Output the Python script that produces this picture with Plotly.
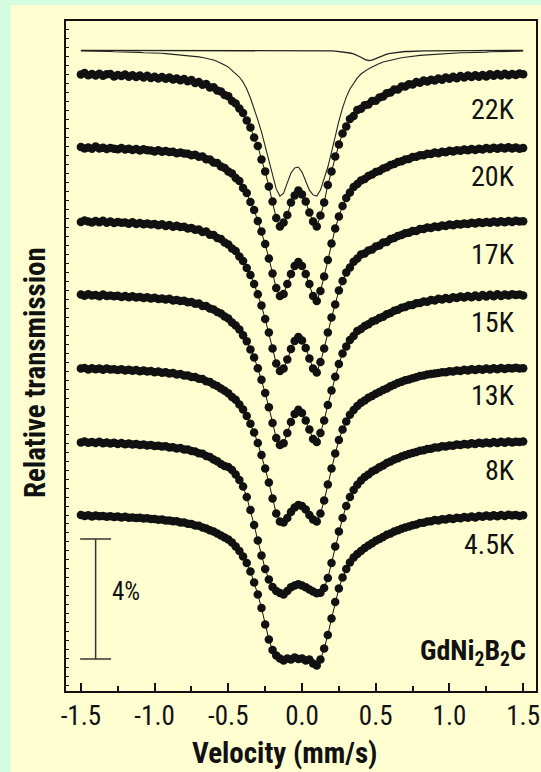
import numpy as np
import plotly.graph_objects as go

# ---------------- data (absorption depth in %) ----------------
# velocity channels (mm/s), uniform spacing of the spectrometer
velocity = np.round(np.linspace(-1.5, 1.5, 121), 3)

temperatures = ["22K", "20K", "17K", "15K", "13K", "8K", "4.5K"]
offsets = [0.0, -2.45, -4.9, -7.35, -9.8, -12.25, -14.7]   # vertical stacking (%)
component_offset = 0.8

absorption_22K = [
    0.02, -0.03, 0.04, 0.0, 0.05, -0.01, 0.06, 0.01, 0.0, 0.08,
    0.03, 0.07, 0.02, 0.09, 0.04, 0.1, 0.05, 0.12, 0.06, 0.13,
    0.09, 0.15, 0.1, 0.16, 0.12, 0.18, 0.15, 0.21, 0.17, 0.24,
    0.2, 0.3, 0.27, 0.36, 0.33, 0.45, 0.44, 0.55, 0.58, 0.7,
    0.74, 0.9, 0.98, 1.15, 1.3, 1.55, 1.78, 2.12, 2.4, 2.85,
    3.25, 3.75, 4.25, 4.8, 5.08,
    4.95, 4.7, 4.28, 4.05, 3.88, 4.02, 4.25, 4.62, 4.92, 5.08,
    4.72, 4.28, 3.7, 3.25, 2.75, 2.35, 1.98, 1.75, 1.5, 1.4,
    1.2, 1.16, 1.04, 1.02, 0.9, 0.89, 0.78, 0.75, 0.64, 0.62,
    0.52, 0.52, 0.42, 0.42, 0.34, 0.35, 0.27, 0.29, 0.22, 0.25,
    0.19, 0.22, 0.15, 0.19, 0.12, 0.16, 0.09, 0.14, 0.07, 0.12,
    0.05, 0.1, 0.04, 0.09, 0.03, 0.08, 0.01, 0.06, 0.0, 0.05,
    -0.01, 0.04, 0.0, 0.03, -0.02, 0.01,
]
absorption_20K = [
    -0.02, 0.03, 0.0, 0.04, -0.03, 0.03, 0.01, 0.05, 0.02, 0.04,
    0.06, 0.02, 0.07, 0.04, 0.08, 0.05, 0.1, 0.06, 0.09, 0.1,
    0.13, 0.09, 0.14, 0.12, 0.15, 0.14, 0.19, 0.17, 0.2, 0.21,
    0.26, 0.24, 0.31, 0.3, 0.39, 0.4, 0.5, 0.52, 0.63, 0.68,
    0.8, 0.87, 1.02, 1.12, 1.35, 1.52, 1.82, 2.08, 2.45, 2.8,
    3.22, 3.7, 4.2, 4.68, 4.95,
    4.88, 4.55, 4.22, 3.95, 3.82, 3.95, 4.22, 4.55, 4.95, 5.12,
    4.78, 4.3, 3.75, 3.2, 2.7, 2.3, 1.95, 1.68, 1.5, 1.32,
    1.22, 1.1, 1.05, 0.95, 0.9, 0.82, 0.78, 0.7, 0.66, 0.58,
    0.55, 0.48, 0.46, 0.4, 0.38, 0.32, 0.31, 0.26, 0.26, 0.21,
    0.22, 0.17, 0.19, 0.14, 0.16, 0.11, 0.13, 0.09, 0.11, 0.07,
    0.09, 0.05, 0.08, 0.04, 0.07, 0.02, 0.05, 0.01, 0.04, 0.0,
    0.03, -0.01, 0.03, 0.0, 0.04, 0.02,
]
absorption_17K = [
    0.03, -0.02, 0.02, 0.05, 0.0, 0.04, -0.01, 0.06, 0.02, 0.07,
    0.03, 0.06, 0.05, 0.09, 0.04, 0.1, 0.07, 0.11, 0.08, 0.12,
    0.1, 0.14, 0.11, 0.17, 0.13, 0.19, 0.16, 0.2, 0.19, 0.25,
    0.23, 0.29, 0.28, 0.37, 0.35, 0.46, 0.47, 0.57, 0.6, 0.72,
    0.78, 0.92, 1.0, 1.18, 1.33, 1.57, 1.8, 2.1, 2.44, 2.82,
    3.27, 3.72, 4.25, 4.75, 5.0,
    4.92, 4.62, 4.27, 4.0, 3.87, 3.98, 4.23, 4.58, 4.92, 5.05,
    4.7, 4.25, 3.72, 3.22, 2.78, 2.32, 2.0, 1.72, 1.55, 1.36,
    1.25, 1.12, 1.08, 0.98, 0.95, 0.85, 0.82, 0.72, 0.7, 0.6,
    0.57, 0.5, 0.47, 0.41, 0.39, 0.33, 0.33, 0.27, 0.27, 0.22,
    0.23, 0.18, 0.2, 0.15, 0.17, 0.12, 0.14, 0.1, 0.12, 0.08,
    0.1, 0.06, 0.08, 0.04, 0.07, 0.03, 0.06, 0.02, 0.05, 0.01,
    0.04, 0.0, 0.03, -0.01, 0.02, 0.01,
]
absorption_15K = [
    0.0, 0.04, -0.01, 0.03, 0.02, 0.06, 0.0, 0.05, 0.03, 0.06,
    0.04, 0.08, 0.05, 0.09, 0.06, 0.1, 0.08, 0.12, 0.09, 0.13,
    0.11, 0.15, 0.13, 0.17, 0.14, 0.2, 0.18, 0.22, 0.21, 0.26,
    0.25, 0.31, 0.3, 0.38, 0.38, 0.47, 0.5, 0.58, 0.63, 0.73,
    0.8, 0.93, 1.03, 1.17, 1.36, 1.56, 1.83, 2.1, 2.46, 2.84,
    3.28, 3.76, 4.28, 4.78, 5.02,
    4.96, 4.62, 4.25, 3.98, 3.84, 3.95, 4.2, 4.5, 4.82, 4.92,
    4.62, 4.2, 3.68, 3.2, 2.74, 2.32, 1.97, 1.73, 1.52, 1.38,
    1.22, 1.15, 1.05, 0.99, 0.9, 0.86, 0.78, 0.74, 0.66, 0.62,
    0.54, 0.51, 0.44, 0.42, 0.36, 0.35, 0.29, 0.28, 0.23, 0.24,
    0.18, 0.2, 0.14, 0.17, 0.12, 0.15, 0.09, 0.12, 0.07, 0.1,
    0.05, 0.09, 0.03, 0.08, 0.02, 0.07, 0.01, 0.06, -0.01, 0.05,
    0.0, 0.03, -0.01, 0.02, 0.0, 0.03,
]
absorption_13K = [
    0.02, 0.0, 0.05, 0.01, 0.04, 0.02, 0.06, 0.02, 0.05, 0.04,
    0.07, 0.04, 0.08, 0.06, 0.09, 0.07, 0.11, 0.08, 0.12, 0.1,
    0.14, 0.12, 0.16, 0.14, 0.18, 0.17, 0.22, 0.2, 0.25, 0.25,
    0.3, 0.3, 0.36, 0.37, 0.44, 0.47, 0.55, 0.6, 0.68, 0.76,
    0.84, 0.97, 1.06, 1.22, 1.38, 1.6, 1.86, 2.15, 2.5, 2.9,
    3.35, 3.82, 4.35, 4.85, 5.12,
    5.15, 5.0, 4.8, 4.65, 4.57, 4.6, 4.72, 4.9, 5.05, 5.12,
    4.85, 4.42, 3.88, 3.35, 2.85, 2.4, 2.05, 1.78, 1.56, 1.4,
    1.27, 1.16, 1.08, 0.99, 0.93, 0.86, 0.8, 0.73, 0.68, 0.61,
    0.56, 0.5, 0.46, 0.41, 0.38, 0.34, 0.31, 0.27, 0.25, 0.22,
    0.2, 0.18, 0.17, 0.14, 0.14, 0.11, 0.12, 0.08, 0.1, 0.06,
    0.08, 0.04, 0.07, 0.03, 0.06, 0.02, 0.05, 0.01, 0.04, 0.0,
    0.03, 0.0, 0.02, -0.01, 0.02, 0.01,
]
absorption_8K = [
    0.03, 0.0, 0.04, 0.02, 0.05, 0.01, 0.06, 0.03, 0.07, 0.04,
    0.08, 0.05, 0.09, 0.07, 0.1, 0.08, 0.12, 0.1, 0.13, 0.12,
    0.15, 0.14, 0.17, 0.16, 0.2, 0.19, 0.23, 0.22, 0.27, 0.27,
    0.32, 0.33, 0.39, 0.41, 0.48, 0.52, 0.6, 0.66, 0.75, 0.82,
    0.85, 0.95, 1.1, 1.28, 1.5, 1.85, 2.28, 2.78, 3.3, 3.8,
    4.25, 4.6, 4.85, 4.98, 5.05,
    5.1, 4.98, 4.86, 4.8, 4.76, 4.8, 4.86, 4.93, 5.0, 5.06,
    5.04, 4.88, 4.55, 4.05, 3.5, 3.0, 2.55, 2.15, 1.85, 1.62,
    1.44, 1.3, 1.18, 1.1, 1.0, 0.94, 0.86, 0.8, 0.72, 0.67,
    0.6, 0.56, 0.5, 0.46, 0.42, 0.38, 0.35, 0.31, 0.29, 0.25,
    0.24, 0.2, 0.2, 0.16, 0.17, 0.13, 0.14, 0.1, 0.12, 0.08,
    0.1, 0.06, 0.08, 0.04, 0.07, 0.03, 0.06, 0.02, 0.05, 0.01,
    0.04, 0.0, 0.03, 0.01, 0.02, 0.0,
]
absorption_4_5K = [
    0.0, 0.03, 0.01, 0.05, 0.02, 0.04, 0.03, 0.06, 0.04, 0.07,
    0.05, 0.08, 0.06, 0.09, 0.08, 0.1, 0.09, 0.12, 0.11, 0.13,
    0.13, 0.16, 0.15, 0.18, 0.18, 0.21, 0.21, 0.25, 0.25, 0.29,
    0.3, 0.35, 0.36, 0.42, 0.45, 0.51, 0.55, 0.62, 0.68, 0.75,
    0.82, 0.92, 1.05, 1.2, 1.38, 1.6, 1.88, 2.25, 2.65, 3.1,
    3.65, 4.15, 4.5, 4.68, 4.78,
    4.85, 4.78, 4.82, 4.75, 4.8, 4.78, 4.85, 4.82, 4.95, 5.02,
    4.82, 4.45, 4.0, 3.45, 2.9, 2.45, 2.08, 1.8, 1.58, 1.42,
    1.3, 1.2, 1.1, 1.02, 0.94, 0.86, 0.8, 0.73, 0.66, 0.62,
    0.55, 0.51, 0.46, 0.42, 0.38, 0.34, 0.32, 0.27, 0.26, 0.22,
    0.21, 0.17, 0.18, 0.14, 0.15, 0.11, 0.13, 0.09, 0.11, 0.07,
    0.09, 0.05, 0.08, 0.03, 0.06, 0.02, 0.05, 0.01, 0.04, 0.0,
    0.03, -0.01, 0.02, 0.0, 0.03, 0.01,
]
# sub-spectra of the 22K fit drawn at the top
component_main = [
    0.03, 0.03, 0.03, 0.03, 0.04, 0.04, 0.05, 0.05, 0.05, 0.06,
    0.06, 0.06, 0.07, 0.07, 0.08, 0.08, 0.08, 0.09, 0.09, 0.1,
    0.1, 0.11, 0.11, 0.12, 0.13, 0.14, 0.15, 0.16, 0.17, 0.18,
    0.2, 0.22, 0.23, 0.25, 0.27, 0.3, 0.33, 0.38, 0.43, 0.5,
    0.57, 0.67, 0.77, 0.9, 1.07, 1.3, 1.6, 1.93, 2.33, 2.73,
    3.2, 3.7, 4.17, 4.63, 4.87, 4.77, 4.43, 4.1, 3.93, 3.9,
    4.07, 4.37, 4.67, 4.83, 4.87, 4.67, 4.3, 3.9, 3.4, 2.87,
    2.37, 1.93, 1.57, 1.3, 1.1, 0.93, 0.8, 0.7, 0.63, 0.57,
    0.5, 0.45, 0.4, 0.37, 0.33, 0.31, 0.28, 0.26, 0.24, 0.22,
    0.21, 0.19, 0.18, 0.17, 0.16, 0.15, 0.14, 0.13, 0.12, 0.12,
    0.11, 0.1, 0.1, 0.09, 0.09, 0.09, 0.08, 0.08, 0.07, 0.07,
    0.07, 0.06, 0.06, 0.06, 0.05, 0.05, 0.05, 0.04, 0.04, 0.04,
    0.03,
]
component_minor = [
    0.01, 0.01, 0.01, 0.01, 0.01, 0.01, 0.01, 0.01, 0.01, 0.01,
    0.01, 0.01, 0.01, 0.01, 0.01, 0.01, 0.01, 0.01, 0.01, 0.01,
    0.01, 0.01, 0.01, 0.01, 0.01, 0.01, 0.01, 0.01, 0.01, 0.01,
    0.01, 0.01, 0.01, 0.01, 0.01, 0.01, 0.01, 0.01, 0.01, 0.01,
    0.01, 0.01, 0.01, 0.01, 0.01, 0.01, 0.01, 0.01, 0.01, 0.01,
    0.01, 0.01, 0.01, 0.01, 0.01, 0.01, 0.01, 0.01, 0.01, 0.01,
    0.01, 0.01, 0.01, 0.02, 0.02, 0.02, 0.02, 0.03, 0.03, 0.04,
    0.05, 0.06, 0.08, 0.1, 0.13, 0.18, 0.24, 0.31, 0.35, 0.34,
    0.29, 0.23, 0.18, 0.14, 0.11, 0.09, 0.07, 0.06, 0.05, 0.05,
    0.04, 0.04, 0.04, 0.03, 0.03, 0.03, 0.03, 0.03, 0.02, 0.02,
    0.02, 0.02, 0.02, 0.02, 0.02, 0.02, 0.02, 0.02, 0.02, 0.02,
    0.01, 0.01, 0.01, 0.01, 0.01, 0.01, 0.01, 0.01, 0.01, 0.01,
    0.01,
]
spectra = [absorption_22K, absorption_20K, absorption_17K, absorption_15K,
           absorption_13K, absorption_8K, absorption_4_5K]

x_tick_values = [-1.5, -1.0, -0.5, 0.0, 0.5, 1.0, 1.5]
x_tick_labels = ["-1.5", "-1.0", "-0.5", "0.0", "0.5", "1.0", "1.5"]
label_levels = [-1.17, -3.4, -6.0, -8.28, -10.73, -13.2, -15.67]
scale_bar_percent = 4

# ---------------- styling ----------------
FONT = "Liberation Sans Narrow, Arial Narrow, Roboto Condensed, DejaVu Sans Condensed, sans-serif"
YELLOW = "#fefed1"
GREEN = "#d4fce1"
INK = "#111111"

fig = go.Figure()

for comp, w in [(component_minor, 1.3), (component_main, 1.1)]:
    fig.add_trace(go.Scatter(
        x=velocity, y=[component_offset - a for a in comp], mode="lines",
        line=dict(color="#222222", width=w), hoverinfo="skip", showlegend=False))

for spec, off in zip(spectra, offsets):
    fig.add_trace(go.Scatter(
        x=velocity, y=[off - a for a in spec], mode="lines+markers",
        line=dict(color=INK, width=1),
        marker=dict(color=INK, size=8.5, line=dict(width=0)),
        hoverinfo="skip", showlegend=False))

annotations = []
for name, lvl in zip(temperatures, label_levels):
    annotations.append(dict(x=1.455, y=lvl, xref="x", yref="y", text=name,
                            showarrow=False, xanchor="right", yanchor="middle",
                            font=dict(family=FONT, size=28, color=INK)))

bar_top = -15.5
bar_bottom = bar_top - scale_bar_percent
annotations += [
    dict(x=-1.30, y=(bar_top + bar_bottom) / 2 + 0.25, xref="x", yref="y",
         text=f"{scale_bar_percent}%", showarrow=False, xanchor="left", yanchor="middle",
         font=dict(family=FONT, size=25, color=INK)),
    dict(x=1.53, y=-19.3, xref="x", yref="y",
         text="<b>GdNi<sub>2</sub>B<sub>2</sub>C</b>", showarrow=False,
         xanchor="right", yanchor="middle",
         font=dict(family=FONT, size=28, color=INK)),
    dict(x=0.464, y=-0.092, xref="paper", yref="paper", text="<b>Velocity (mm/s)</b>",
         showarrow=False, xanchor="center", yanchor="middle",
         font=dict(family=FONT, size=29, color=INK)),
    dict(x=-0.066, y=0.476, xref="paper", yref="paper", text="<b>Relative transmission</b>",
         showarrow=False, xanchor="center", yanchor="middle", textangle=-90,
         font=dict(family=FONT, size=29, color=INK)),
]

shapes = [
    dict(type="rect", xref="paper", yref="paper", x0=-0.1181, x1=1.02, y0=-0.14, y1=1.0239,
         fillcolor=YELLOW, line=dict(width=0), layer="below"),
    dict(type="line", xref="x", yref="y", x0=-1.40, x1=-1.40, y0=bar_top, y1=bar_bottom,
         line=dict(color="#333333", width=1.5)),
    dict(type="line", xref="x", yref="y", x0=-1.505, x1=-1.295, y0=bar_top, y1=bar_top,
         line=dict(color="#333333", width=1.5)),
    dict(type="line", xref="x", yref="y", x0=-1.505, x1=-1.295, y0=bar_bottom, y1=bar_bottom,
         line=dict(color="#333333", width=1.5)),
]

fig.update_layout(
    width=541, height=772,
    margin=dict(l=66, r=1, t=21, b=81),
    paper_bgcolor=GREEN, plot_bgcolor=YELLOW,
    annotations=annotations, shapes=shapes,
    font=dict(family=FONT, color=INK),
)
fig.update_xaxes(
    range=[-1.601, 1.587], showgrid=False, zeroline=False,
    showline=True, linecolor=INK, linewidth=2, mirror=True,
    ticks="inside", ticklen=8, tickwidth=1.5, tickcolor=INK,
    tickvals=x_tick_values, ticktext=x_tick_labels,
    tickfont=dict(family=FONT, size=27, color=INK),
    ticklabeloverflow="allow",
    minor=dict(ticks="inside", ticklen=5, tickwidth=1.5, tickcolor=INK, dtick=0.25, tick0=-1.5),
)
fig.update_yaxes(
    range=[-20.567, 1.767], showgrid=False, zeroline=False,
    showline=True, linecolor=INK, linewidth=2, mirror=True,
    ticks="inside", ticklen=3, tickwidth=1, tickcolor=INK, dtick=0.3,
    showticklabels=False,
)

fig.write_html(
    "out.html",
    config={"displayModeBar": False},
    post_script=(
        "document.body.style.margin='0';"
        "document.body.style.overflow='hidden';"
        f"document.body.style.background='{GREEN}';"
    ),
)
